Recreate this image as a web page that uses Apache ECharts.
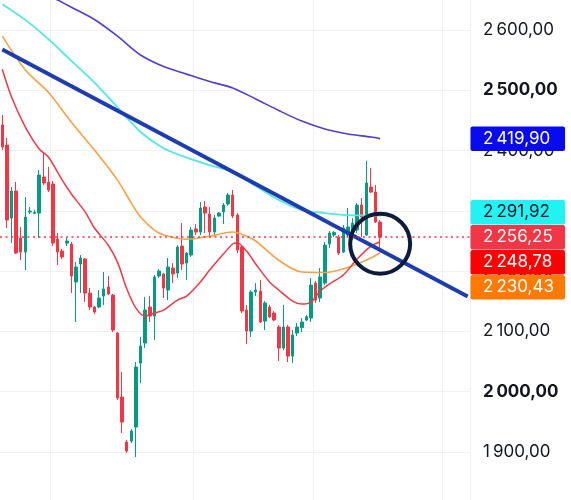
<!DOCTYPE html>
<html>
<head>
<meta charset="utf-8">
<script src="https://cdn.jsdelivr.net/npm/echarts@6/dist/echarts.min.js"></script>
<style>
html, body { margin: 0; padding: 0; background: #fff; }
#chart { width: 571px; height: 500px; }
</style>
</head>
<body>
<div id="chart"></div>
<script>
// each candle: [open, close, low, high]
const candles = [
  [2442.5, 2406.0, 2401.0, 2459.1], [2409.3, 2284.8, 2271.5, 2420.9], [2288.1, 2332.9, 2246.6, 2339.6],
  [2332.9, 2230.0, 2228.4, 2347.9], [2254.9, 2231.7, 2218.4, 2273.2], [2231.7, 2289.8, 2201.8, 2323.0],
  [2298.1, 2299.7, 2294.8, 2306.4], [2295.6, 2297.3, 2294.8, 2301.4], [2296.4, 2359.5, 2254.9, 2367.8],
  [2356.2, 2346.2, 2342.9, 2396.0], [2347.9, 2334.6, 2331.3, 2372.8], [2344.6, 2246.6, 2241.6, 2349.5],
  [2253.3, 2231.7, 2210.1, 2263.2], [2233.3, 2223.4, 2220.1, 2236.7], [2246.6, 2249.9, 2241.6, 2254.9],
  [2244.9, 2191.8, 2163.6, 2248.3], [2181.9, 2206.8, 2115.5, 2215.1], [2211.8, 2221.7, 2163.6, 2226.7],
  [2220.1, 2163.6, 2148.7, 2221.7], [2163.6, 2140.4, 2135.4, 2171.9], [2140.4, 2132.1, 2128.8, 2142.0],
  [2140.4, 2155.3, 2138.7, 2168.6], [2158.6, 2170.3, 2143.7, 2198.5], [2173.6, 2162.0, 2160.3, 2191.8],
  [2160.3, 2102.2, 2098.9, 2162.0], [2097.2, 1989.3, 1986.0, 2098.9], [1991.0, 1949.5, 1931.2, 2032.5],
  [1916.3, 1901.3, 1898.0, 1919.6], [1917.9, 1934.5, 1914.6, 1937.9], [1941.2, 2040.8, 1891.4, 2049.1],
  [2047.4, 2075.6, 2014.2, 2090.6], [2080.6, 2135.4, 2072.3, 2157.0], [2140.4, 2125.4, 2115.5, 2158.6],
  [2125.4, 2190.2, 2085.6, 2193.5], [2191.8, 2200.1, 2188.5, 2203.5], [2195.2, 2171.9, 2155.3, 2196.8],
  [2168.6, 2206.8, 2152.0, 2221.7], [2205.1, 2195.2, 2180.2, 2213.4], [2196.8, 2240.0, 2188.5, 2243.3],
  [2241.6, 2211.8, 2201.8, 2279.8], [2213.4, 2230.0, 2185.2, 2231.7], [2226.7, 2268.2, 2223.4, 2273.2],
  [2269.9, 2264.9, 2259.9, 2278.2], [2264.9, 2304.7, 2259.9, 2314.7], [2306.4, 2296.4, 2263.2, 2316.3],
  [2294.8, 2264.9, 2256.6, 2306.4], [2264.9, 2288.1, 2259.9, 2293.1], [2291.4, 2296.4, 2289.8, 2298.1],
  [2298.1, 2309.7, 2278.2, 2313.0], [2311.4, 2326.3, 2308.0, 2329.6], [2326.3, 2291.4, 2288.1, 2334.6],
  [2293.1, 2235.0, 2230.0, 2296.4], [2240.0, 2133.7, 2130.4, 2243.3], [2135.4, 2100.5, 2079.0, 2143.7],
  [2100.5, 2165.3, 2090.6, 2168.6], [2165.3, 2168.6, 2158.6, 2180.2], [2166.9, 2115.5, 2113.8, 2185.2],
  [2117.1, 2147.0, 2102.2, 2150.3], [2140.4, 2123.8, 2122.1, 2143.7], [2130.4, 2118.8, 2117.1, 2133.7],
  [2107.2, 2072.3, 2050.7, 2110.5], [2072.3, 2107.2, 2069.0, 2143.7], [2107.2, 2059.0, 2049.1, 2110.5],
  [2059.0, 2093.9, 2047.4, 2102.2], [2097.2, 2107.2, 2092.2, 2113.8], [2106.4, 2115.5, 2098.9, 2122.1],
  [2118.8, 2124.3, 2117.1, 2127.1], [2122.1, 2176.9, 2115.5, 2188.5], [2180.2, 2152.0, 2147.0, 2183.5],
  [2155.3, 2190.2, 2148.7, 2205.1], [2180.2, 2243.3, 2176.9, 2248.3], [2245.0, 2263.2, 2238.3, 2266.5],
  [2259.9, 2264.0, 2256.6, 2266.5], [2256.6, 2230.0, 2226.7, 2259.9], [2231.7, 2271.5, 2230.0, 2276.5],
  [2259.9, 2273.2, 2256.6, 2304.7], [2254.9, 2279.8, 2251.6, 2288.1], [2268.2, 2309.7, 2263.2, 2313.0],
  [2309.7, 2289.8, 2256.6, 2321.3], [2259.9, 2346.2, 2258.2, 2382.7], [2339.6, 2331.3, 2329.6, 2371.1],
  [2331.3, 2281.5, 2279.8, 2342.9], [2281.5, 2256.25, 2238.3, 2284.8]
];

// moving averages: [candle index, value]
const maRed = [
  [0, 2535], [2, 2489], [5, 2439], [8, 2402.7], [10, 2389.4], [13, 2351], [15, 2328], [18, 2298],
  [20, 2271.5], [23, 2243], [25, 2215], [27, 2171], [29, 2138.7], [31, 2125.4], [33, 2130.4],
  [35, 2135.4], [38, 2152], [40, 2158.6], [43, 2182], [45, 2201.8], [48, 2228.4], [50, 2245],
  [51, 2246.6], [53, 2233.3], [55, 2211.8], [58, 2182], [60, 2168.6], [63, 2150.3], [65, 2145.4],
  [67, 2148.7], [69, 2166.9], [71, 2178.6], [74, 2193.5], [77, 2220], [80, 2241.6], [82, 2248.78]
];
const maOrange = [
  [0, 2590], [5, 2534], [10, 2497], [15, 2447], [20, 2401], [25, 2351], [28, 2313], [30, 2290],
  [33, 2268], [35, 2260], [40, 2253], [45, 2258], [50, 2265], [53, 2258], [55, 2250], [60, 2218],
  [65, 2198.5], [70, 2197.7], [75, 2206], [80, 2221.7], [82, 2230.43]
];
const maCyan = [
  [0, 2643], [5, 2617], [10, 2585], [15, 2549], [20, 2513], [25, 2472], [30, 2431], [35, 2404],
  [40, 2388.5], [45, 2376], [50, 2364.5], [55, 2341.2], [60, 2318], [65, 2301.4], [70, 2296.4],
  [75, 2293.1], [80, 2292.3], [82, 2291.92]
];
const maPurple = [
  [8, 2665], [12, 2650], [15, 2638], [20, 2617.6], [25, 2590], [30, 2558.7], [35, 2539.6],
  [40, 2527], [45, 2514.7], [50, 2504], [55, 2485.7], [60, 2466.6], [65, 2449], [70, 2435.9],
  [75, 2427.6], [80, 2422.6], [82, 2419.9]
];
const trendLine = [[0, 2568], [101, 2158]];
const circleMark = [[82, 2245.5]];
const slotCount = 102;
const gridBreaks = [11, 42, 68, 96];
const boldTicks = [2500, 2000];

const slots = Array.from({ length: slotCount }, (_, i) => String(i));
const lastClose = candles[candles.length - 1][1];

function fmt(v) {
	const parts = Number(v).toFixed(2).split('.');
	return parts[0].replace(/\B(?=(\d{3})+(?!\d))/g, '\u2009') + ',' + parts[1];
}

function maSeries(data, color, width) {
	return {
		type: 'line',
		data: data,
		smooth: 0.3,
		symbol: 'none',
		silent: true,
		lineStyle: { color: color, width: width },
		z: 3
	};
}

const chart = echarts.init(document.getElementById('chart'));
chart.setOption({
	backgroundColor: '#fff',
	animation: false,
	textStyle: { fontFamily: 'Inter' },
	grid: { left: 0, right: 101, top: -30.1, height: 542.2, outerBoundsMode: 'none', containLabel: false },
	xAxis: {
		type: 'category',
		data: slots,
		boundaryGap: true,
		axisLine: { show: false },
		axisTick: { show: false },
		axisLabel: { show: false },
		splitLine: {
			show: true,
			interval: (index) => gridBreaks.includes(index),
			lineStyle: { color: '#eef0f4', width: 1 }
		}
	},
	yAxis: {
		type: 'value',
		position: 'right',
		min: 1800,
		max: 2700,
		interval: 100,
		axisLine: { show: false },
		axisTick: { show: false },
		splitLine: { lineStyle: { color: '#eef0f4', width: 1 } },
		axisLabel: {
			margin: 13,
			color: '#131722',
			fontSize: 17,
			fontFamily: 'Inter',
			formatter: (v) => boldTicks.includes(v) ? '{b|' + fmt(v) + '}' : fmt(v),
			rich: { b: { fontWeight: 'bold', fontSize: 17, fontFamily: 'Inter', color: '#131722' } }
		}
	},
	series: [
		{
			type: 'candlestick',
			data: candles.map(c => [c[0], c[1], c[2], c[3]]),
			barWidth: 3,
			itemStyle: {
				color: '#089981',
				color0: '#F23645',
				borderColor: '#089981',
				borderColor0: '#F23645',
				borderWidth: 1
			},
			markLine: {
				silent: true,
				symbol: 'none',
				label: { show: false },
				lineStyle: { color: '#F23645', type: [2, 3.5], width: 1.5 },
				data: [{ yAxis: lastClose }]
			}
		},
		maSeries(maPurple, '#4B3FD6', 1.6),
		maSeries(maCyan, '#52E6E6', 1.8),
		maSeries(maOrange, '#F7A148', 1.6),
		maSeries(maRed, '#EC3A44', 1.5),
		{
			type: 'line',
			data: trendLine,
			symbol: 'none',
			silent: true,
			lineStyle: { color: '#1C3CB0', width: 4 },
			z: 4
		},
		{
			type: 'scatter',
			data: circleMark,
			symbol: 'circle',
			symbolSize: 60,
			silent: true,
			itemStyle: { color: 'rgba(0,0,0,0)', borderColor: '#0F1B3A', borderWidth: 4, opacity: 1 },
			z: 5
		}
	]
});

// price tags on the right axis, stacked around the last price tag
const tags = [
	{ v: maPurple[maPurple.length - 1][1], bg: '#0A0AF0', fg: '#ffffff' },
	{ v: maCyan[maCyan.length - 1][1], bg: '#22F2F2', fg: '#131722' },
	{ v: lastClose, bg: '#F23645', fg: '#ffffff' },
	{ v: maRed[maRed.length - 1][1], bg: '#FF0000', fg: '#ffffff' },
	{ v: maOrange[maOrange.length - 1][1], bg: '#FF7A00', fg: '#ffffff' }
];
const H = 25;
const anchor = 2;
tags.forEach(t => { t.y = chart.convertToPixel({ yAxisIndex: 0 }, t.v); });
for (let i = anchor - 1; i >= 0; i--) tags[i].y = Math.min(tags[i].y, tags[i + 1].y - H);
for (let i = anchor + 1; i < tags.length; i++) tags[i].y = Math.max(tags[i].y, tags[i - 1].y + H);

const graphics = [];
tags.forEach(t => {
	graphics.push({
		type: 'rect',
		z: 100,
		shape: { x: 470.5, y: t.y - 12.25, width: 94.5, height: 24.5, r: 2 },
		style: { fill: t.bg }
	});
	graphics.push({
		type: 'text',
		z: 101,
		style: {
			x: 483, y: t.y,
			text: fmt(t.v),
			fill: t.fg,
			fontSize: 17,
			fontFamily: 'Inter',
			verticalAlign: 'middle'
		}
	});
});
chart.setOption({ graphic: graphics });
</script>
</body>
</html>
